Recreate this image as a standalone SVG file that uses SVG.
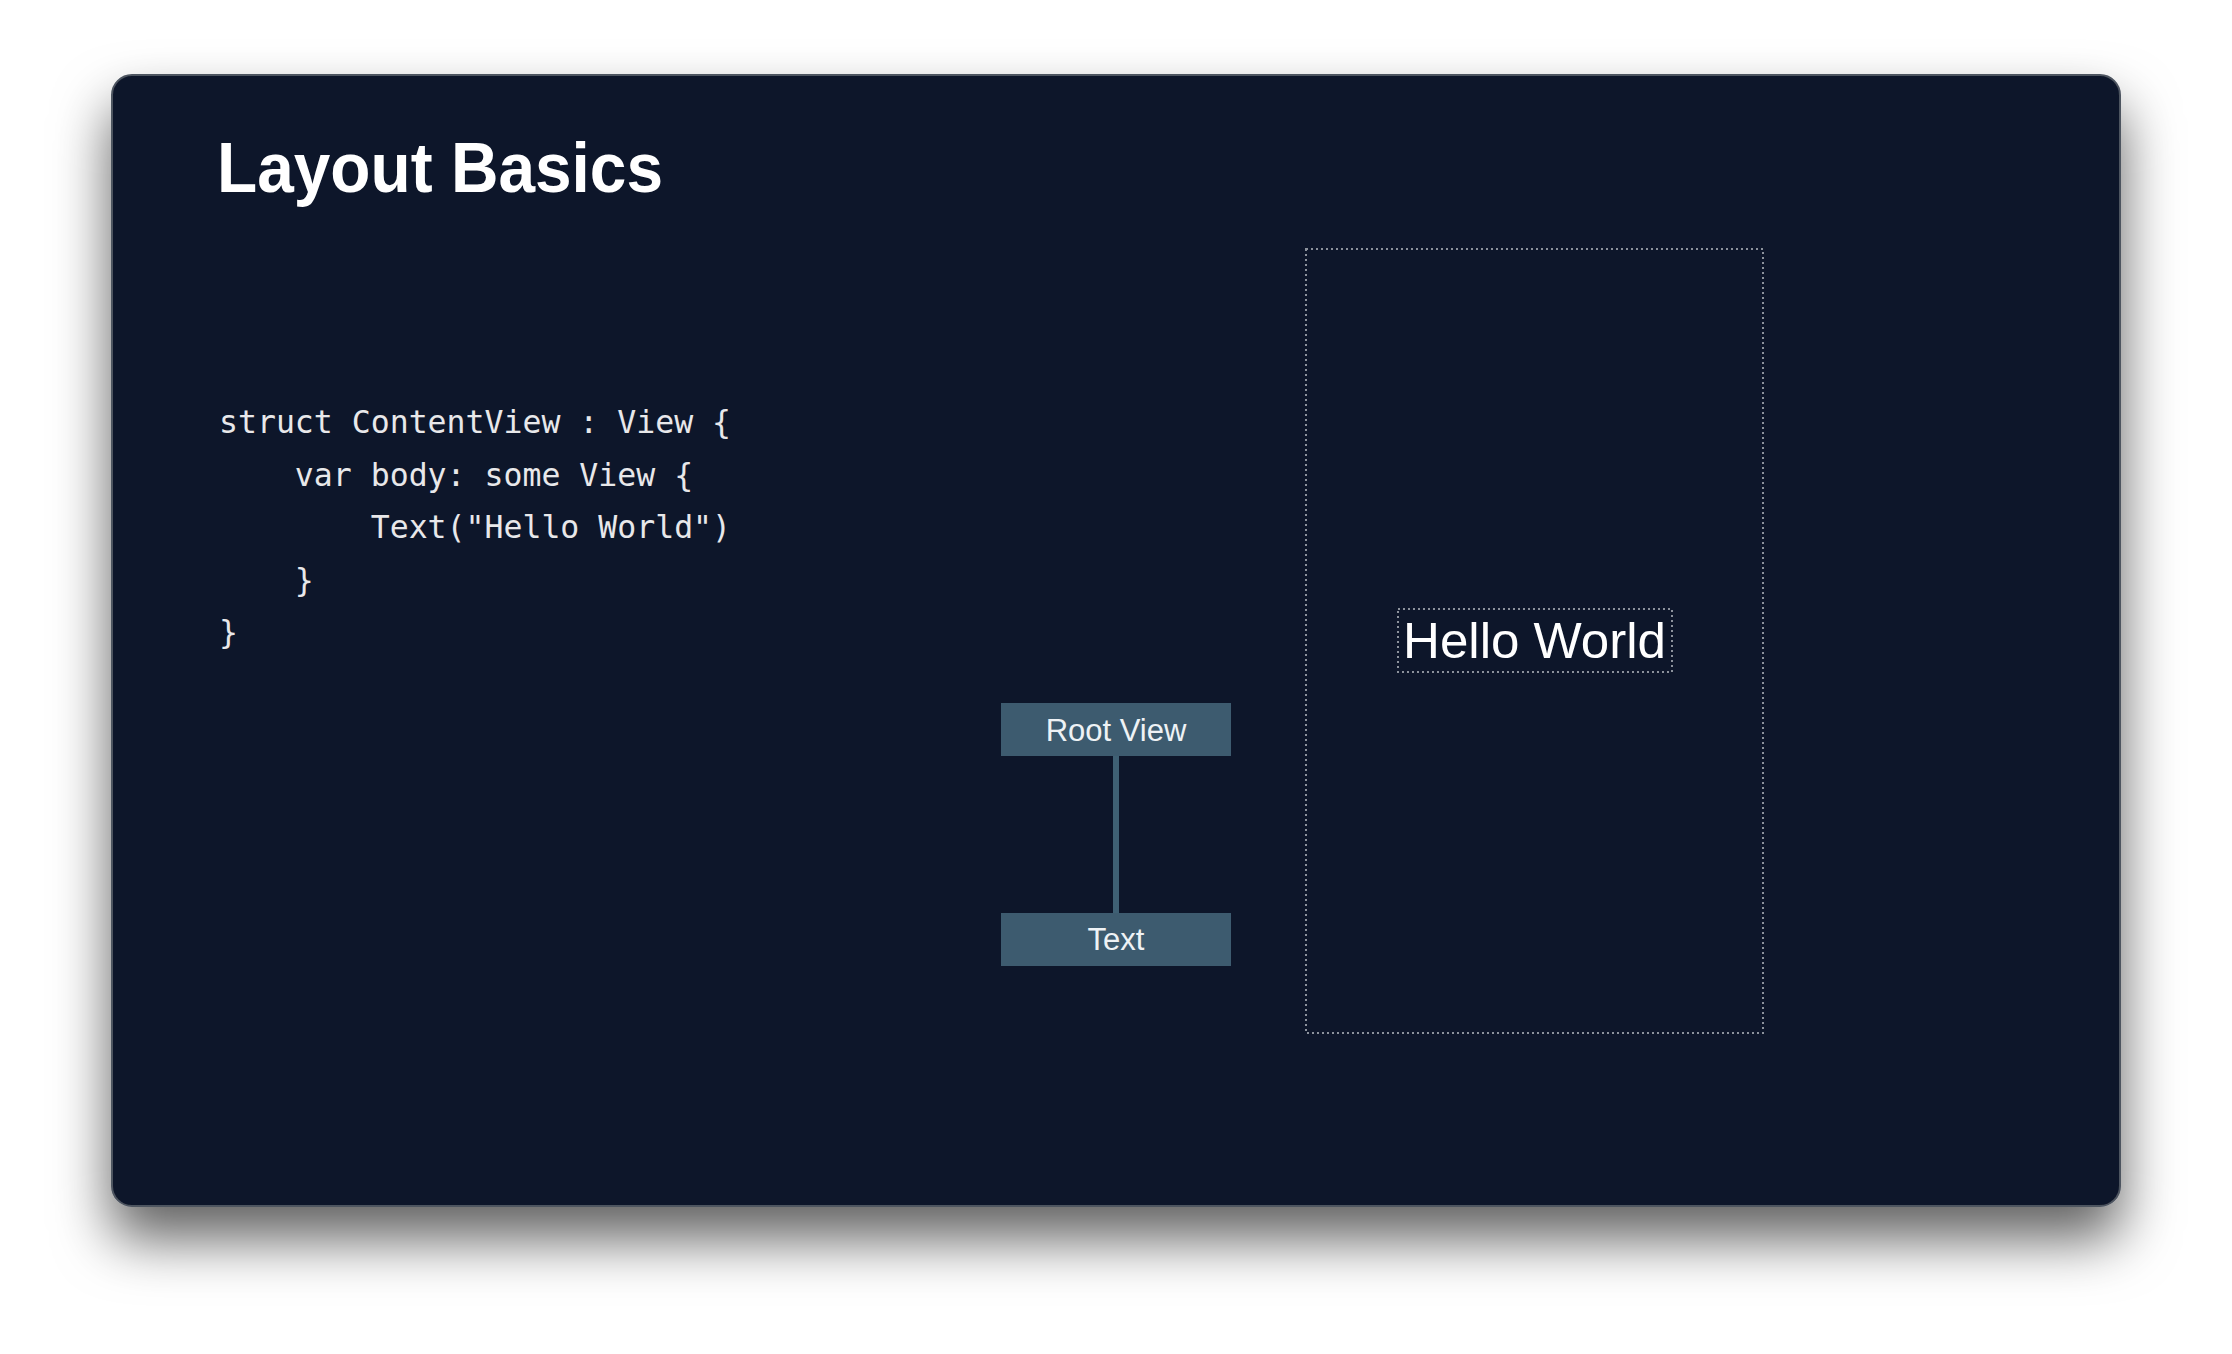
<svg xmlns="http://www.w3.org/2000/svg" width="2232" height="1354" viewBox="0 0 2232 1354">
  <defs>
    <filter id="shadow" x="-10%" y="-10%" width="120%" height="130%">
      <feDropShadow dx="0" dy="32" stdDeviation="28" flood-color="#000" flood-opacity="0.62"/>
    </filter>
    <style>
      .title { font-family: "Liberation Sans", Arial, sans-serif; font-weight: bold; font-size: 70px; fill: #ffffff; }
      .code { font-family: "DejaVu Sans Mono", "Liberation Mono", monospace; font-size: 31.5px; fill: #e8e8ea; }
      .node rect { fill: #3d5b6f; }
      .node text { font-family: "Liberation Sans", Arial, sans-serif; font-size: 31px; fill: #eef2f5; text-anchor: middle; }
      .dotted { fill: none; stroke: #8c929c; stroke-width: 2; stroke-dasharray: 2 3; }
      .hello { font-family: "Liberation Sans", Arial, sans-serif; font-size: 50.5px; fill: #ffffff; }
      .edge { stroke: #3f6074; stroke-width: 6; fill: none; }
    </style>
  </defs>
  <rect x="0" y="0" width="2232" height="1354" fill="#ffffff"/>
  <g id="panel">
    <rect x="112" y="75" width="2008" height="1131" rx="20" ry="20" fill="#10182a" stroke="#4d5460" stroke-width="2" filter="url(#shadow)"/>
  </g>
  <g id="title">
    <text class="title" x="217" y="192" textLength="446" lengthAdjust="spacingAndGlyphs">Layout Basics</text>
  </g>
  <g id="code">
    <text class="code" x="219" y="433" xml:space="preserve">struct ContentView : View {</text>
    <text class="code" x="219" y="486" xml:space="preserve">    var body: some View {</text>
    <text class="code" x="219" y="538" xml:space="preserve">        Text("Hello World")</text>
    <text class="code" x="219" y="591" xml:space="preserve">    }</text>
    <text class="code" x="219" y="643" xml:space="preserve">}</text>
  </g>
  <g id="connectors">
    <line class="edge" x1="1116" y1="756" x2="1116" y2="913"/>
  </g>
  <g id="node-root" class="node">
    <rect x="1001" y="703" width="230" height="53"/>
    <text x="1116" y="741">Root View</text>
  </g>
  <g id="node-text" class="node">
    <rect x="1001" y="913" width="230" height="53"/>
    <text x="1116" y="950">Text</text>
  </g>
  <g id="screen">
    <rect class="dotted" x="1306" y="249" width="457" height="784"/>
  </g>
  <g id="hello-world">
    <rect class="dotted" x="1398" y="609" width="274" height="63"/>
    <text class="hello" x="1403" y="658" textLength="263" lengthAdjust="spacingAndGlyphs">Hello World</text>
  </g>
</svg>
